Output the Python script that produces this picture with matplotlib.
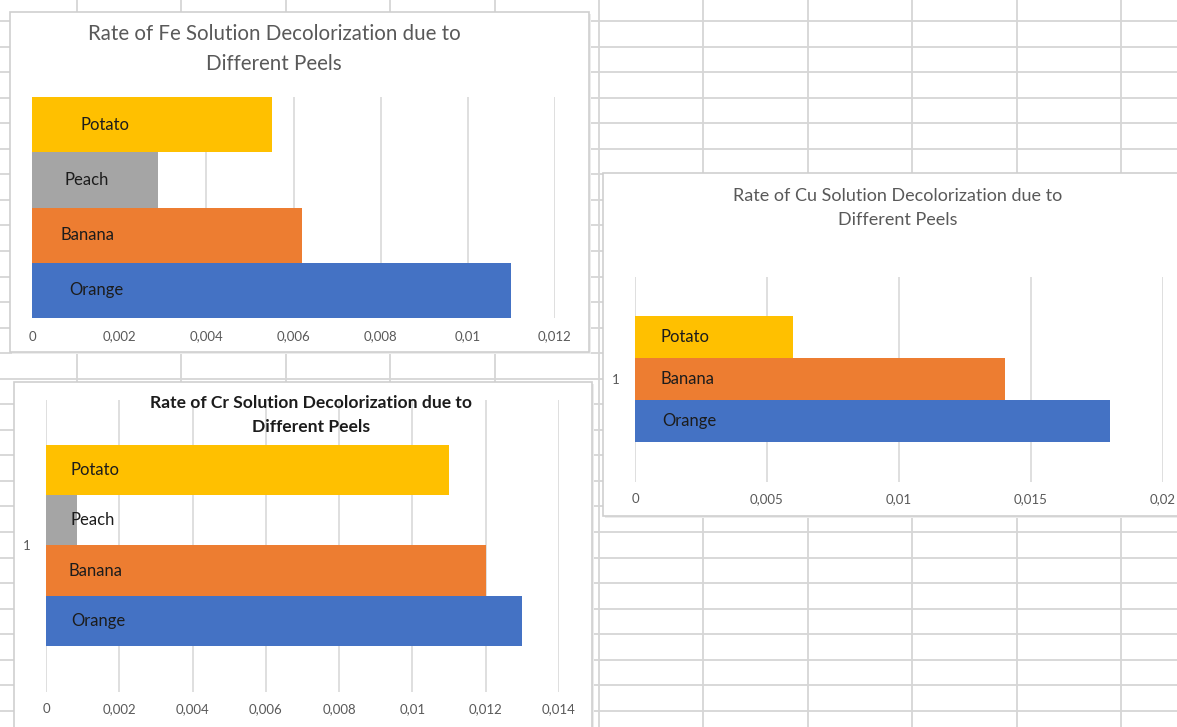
import matplotlib
matplotlib.use("Agg")
import matplotlib.pyplot as plt
from matplotlib.patches import Rectangle
from matplotlib.ticker import FuncFormatter

plt.rcParams['font.family'] = ['Lato', 'DejaVu Sans']

W, H = 1177, 727

# data
fe_peels = ['Orange', 'Banana', 'Peach', 'Potato']
fe_rates = [0.011, 0.0062, 0.0029, 0.0055]

cr_peels = ['Orange', 'Banana', 'Peach', 'Potato']
cr_rates = [0.013, 0.012, 0.00085, 0.011]

cu_peels = ['Orange', 'Banana', 'Potato']
cu_rates = [0.018, 0.014, 0.006]

fe_ticks = [0, 0.002, 0.004, 0.006, 0.008, 0.01, 0.012]
cr_ticks = [0, 0.002, 0.004, 0.006, 0.008, 0.01, 0.012, 0.014]
cu_ticks = [0, 0.005, 0.01, 0.015, 0.02]
category_label = '1'

peel_colors = {'Orange': '#4472C4', 'Banana': '#ED7D31',
               'Peach': '#A5A5A5', 'Potato': '#FFC000'}

GRID = '#d6d6d6'
TXT = '#595959'


def box(x0, y0, x1, y1):
    # pixel box (top-left origin) -> figure fraction
    return [x0 / W, 1 - y1 / H, (x1 - x0) / W, (y1 - y0) / H]


comma = FuncFormatter(lambda v, p: f"{v:g}".replace('.', ','))

fig = plt.figure(figsize=(W / 100, H / 100), dpi=100)

# spreadsheet behind the charts
bg = fig.add_axes([0, 0, 1, 1])
bg.set_xlim(0, W)
bg.set_ylim(H, 0)
bg.axis('off')
for k in range(28):
    bg.axhline(21 + 25.55 * k, color=GRID, lw=1.3, zorder=1)
for k in range(11):
    bg.axvline(77 + 104.4 * k, color=GRID, lw=1.3, zorder=1)

# chart frames
for (x0, y0, x1, y1) in [(10, 12, 589, 352), (14, 382, 592, 740), (603, 173, 1185, 516)]:
    bg.add_patch(Rectangle((x0 + 2, y0 + 2), x1 - x0, y1 - y0, facecolor='#ececec',
                           edgecolor='none', zorder=2))
    bg.add_patch(Rectangle((x0, y0), x1 - x0, y1 - y0, facecolor='white',
                           edgecolor='#cfcfcf', lw=1.2, zorder=3))


def bar_chart(rect, peels, rates, ticks, ylim, label_dx, show_cat, pad):
    ax = fig.add_axes(box(*rect))
    ax.set_facecolor('none')
    pos = list(range(len(peels)))
    ax.barh(pos, rates, height=1.0, color=[peel_colors[p] for p in peels], zorder=2)
    for i, p in enumerate(peels):
        ax.annotate(p, xy=(0, i), xytext=(label_dx[i], 0), textcoords='offset pixels',
                    ha='left', va='center', fontsize=12, color='#1c1c1c', zorder=3)
    ax.set_xlim(ticks[0], ticks[-1])
    ax.set_xticks(ticks)
    ax.xaxis.set_major_formatter(comma)
    ax.set_ylim(*ylim)
    if show_cat:
        ax.set_yticks([(len(peels) - 1) / 2])
        ax.set_yticklabels([category_label])
    else:
        ax.set_yticks([])
    ax.tick_params(axis='both', length=0, labelsize=9.5, labelcolor=TXT)
    ax.tick_params(axis='x', pad=pad)
    ax.tick_params(axis='y', pad=11)
    ax.grid(axis='x', color='#d9d9d9', lw=1.2, zorder=0)
    ax.set_axisbelow(True)
    for s in ax.spines.values():
        s.set_visible(False)
    return ax


bar_chart((32, 97, 555, 318), fe_peels, fe_rates, fe_ticks, (-0.5, 3.5),
          [37, 29, 32, 48], False, 9)
bar_chart((46, 400, 559, 692), cr_peels, cr_rates, cr_ticks, (-1.42, 4.4),
          [25, 22, 25, 25], True, 8)
bar_chart((635, 277, 1163, 482), cu_peels, cu_rates, cu_ticks, (-1.45, 3.43),
          [27, 26, 26], True, 8)


def title(x, y, s, **kw):
    fig.text(x / W, 1 - y / H, s, ha='center', va='center', **kw)


title(274, 49, 'Rate of Fe Solution Decolorization due to\nDifferent Peels',
      fontsize=14.8, color=TXT, linespacing=1.62)
title(311, 415, 'Rate of Cr Solution Decolorization due to\nDifferent Peels',
      fontsize=12.6, color='#1c1c1c', fontweight='bold', linespacing=1.68)
title(898, 208, 'Rate of Cu Solution Decolorization due to\nDifferent Peels',
      fontsize=13, color=TXT, linespacing=1.65)

fig.savefig('out.png', dpi=100)
